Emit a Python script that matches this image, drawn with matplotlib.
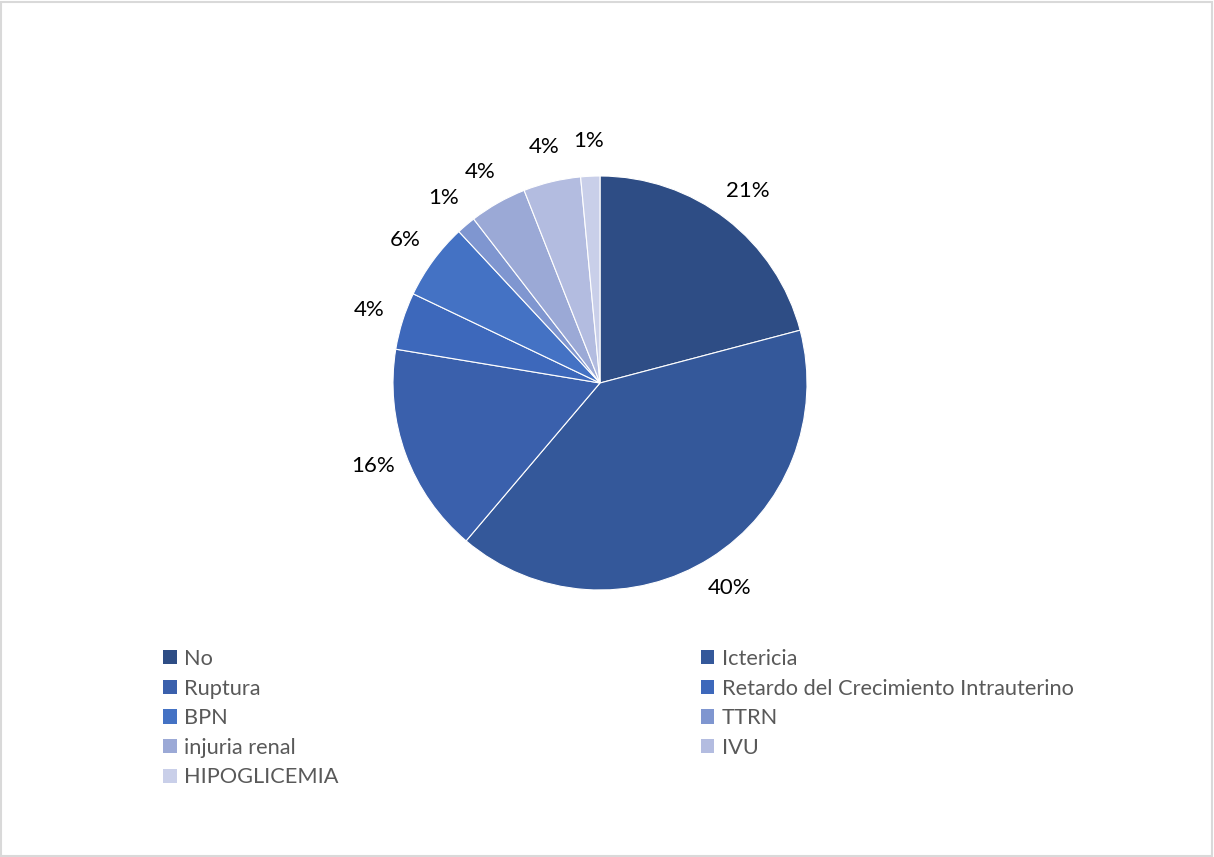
import matplotlib
matplotlib.use("Agg")
import matplotlib.pyplot as plt

plt.rcParams['font.family'] = ['Lato', 'DejaVu Sans']

# casos por complicación (n = 67)
categorias = ["No", "Ictericia", "Ruptura", "Retardo del Crecimiento Intrauterino",
              "BPN", "TTRN", "injuria renal", "IVU", "HIPOGLICEMIA"]
casos = [14, 27, 11, 3, 4, 1, 3, 3, 1]
colores = ["#2E4D85", "#34589A", "#3A60AC", "#3D68BB", "#4472C4",
           "#7F96D0", "#9BA9D6", "#B3BCE0", "#C9CFE9"]

W, H = 1214, 857
fig = plt.figure(figsize=(W / 100, H / 100), dpi=100)

# borde gris del área del gráfico
fig.patches.append(plt.Rectangle((1 / W, 1 / H), 1 - 3 / W, 1 - 3 / H,
                                 transform=fig.transFigure, fill=False,
                                 edgecolor="#D9D9D9", linewidth=1.5))

cx, cy, r = 600, 383, 207
ax = fig.add_axes([(cx - r) / W, 1 - (cy + r) / H, 2 * r / W, 2 * r / H])

wedges, _, autotexts = ax.pie(
    casos, colors=colores, startangle=90, counterclock=False,
    autopct=lambda p: f"{p:.0f}%", pctdistance=1.17,
    wedgeprops=dict(edgecolor="white", linewidth=0.8),
    textprops=dict(fontsize=16, color="black"))
ax.set_xlim(-1, 1)
ax.set_ylim(-1, 1)
ax.set_aspect("equal")

# leyenda en dos columnas, orden por filas
orden = [0, 2, 4, 6, 8, 1, 3, 5, 7]
leg = fig.legend([wedges[i] for i in orden], [categorias[i] for i in orden],
                 loc="upper left", bbox_to_anchor=(163 / W, 1 - 649 / H),
                 ncol=2, frameon=False, fontsize=15.7,
                 handlelength=0.62, handleheight=0.62, handletextpad=0.35,
                 labelspacing=0.44, columnspacing=16.6, borderpad=0,
                 borderaxespad=0)
for t in leg.get_texts():
    t.set_color("#595959")
for h in leg.legend_handles:
    h.set_edgecolor("none")

fig.savefig("out.png", dpi=100, facecolor="white")
